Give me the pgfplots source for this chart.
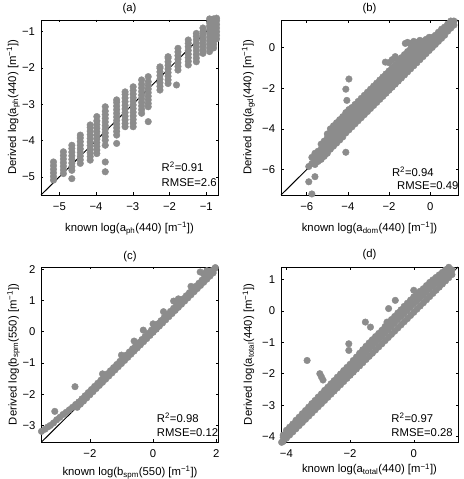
\documentclass[border=0pt]{standalone}
\usepackage{fontspec}
\setmainfont{Liberation Sans}
\usepackage{pgfplots}
\pgfplotsset{compat=1.18}
\definecolor{mg}{RGB}{140,140,140}
\pgfplotsset{
  panel/.style={
    scale only axis, anchor=south west, width=177pt, height=175pt,
    axis line style={line width=0.8pt},
    tick align=inside, major tick length=2.5pt,
    tick style={black, line width=0.5pt},
    xtick pos=both, ytick pos=both,
    xticklabel pos=bottom, yticklabel pos=left,
    xticklabel style={yshift=-4pt},
    yticklabel style={xshift=-2pt},
    xlabel style={anchor=base},
    ylabel style={anchor=base},
    clip=false,
  },
  pts/.style={only marks, mark=*, mark size=3.3pt, color=mg, mark options={draw=mg, fill=mg}},
  idl/.style={black, line width=1pt, no marks},
}
\begin{document}
\fontsize{11.3}{13}\selectfont
\begin{tikzpicture}
\useasboundingbox (0,0) rectangle (463pt,479pt);
% ---------------- (a)
\begin{axis}[panel, at={(41pt,284pt)},
  xmin=-5.5, xmax=-0.68, ymin=-5.5, ymax=-0.68,
  xtick={-5,-4,-3,-2,-1}, xticklabels={−5,−4,−3,−2,−1},
  ytick={-5,-4,-3,-2,-1}, yticklabels={−5,−4,−3,−2,−1},
  xlabel={known log(a\textsubscript{ph}(440) [m\textsuperscript{−1}])},
  ylabel={Derived log(a\textsubscript{ph}(440) [m\textsuperscript{−1}])},
  xlabel style={at={(axis description cs:0.5,-0.206)}},
  ylabel style={at={(axis description cs:-0.141,0.5)}},
]
\addplot[pts] coordinates {
(-5.16,-5.09)(-5.16,-4.99)(-5.16,-4.89)(-5.16,-4.79)(-5.16,-4.69)(-5.16,-4.59)
(-4.89,-4.91)(-4.89,-4.81)(-4.89,-4.71)(-4.89,-4.61)(-4.89,-4.51)(-4.89,-4.41)(-4.89,-4.31)
(-4.66,-5.05)(-4.66,-4.82)(-4.66,-4.72)(-4.66,-4.62)(-4.66,-4.52)(-4.66,-4.42)(-4.66,-4.32)(-4.66,-4.22)(-4.66,-4.13)
(-4.43,-4.63)(-4.43,-4.53)(-4.43,-4.43)(-4.43,-4.33)(-4.43,-4.23)(-4.43,-4.13)(-4.43,-4.03)(-4.43,-3.93)(-4.43,-3.85)
(-4.16,-4.54)(-4.16,-4.44)(-4.16,-4.34)(-4.16,-4.24)(-4.16,-4.14)(-4.16,-4.04)(-4.16,-3.94)(-4.16,-3.84)(-4.16,-3.74)(-4.16,-3.64)(-4.16,-3.57)
(-3.98,-4.36)(-3.98,-4.26)(-3.98,-4.16)(-3.98,-4.06)(-3.98,-3.96)(-3.98,-3.86)(-3.98,-3.76)(-3.98,-3.66)(-3.98,-3.56)(-3.98,-3.46)(-3.98,-3.34)
(-3.75,-4.86)(-3.75,-4.59)(-3.75,-4.13)(-3.75,-3.99)(-3.75,-3.89)(-3.75,-3.79)(-3.75,-3.69)(-3.75,-3.59)(-3.75,-3.49)(-3.75,-3.39)(-3.75,-3.29)(-3.75,-3.19)(-3.75,-3.07)
(-3.44,-4.08)(-3.44,-3.85)(-3.44,-3.75)(-3.44,-3.65)(-3.44,-3.55)(-3.44,-3.45)(-3.44,-3.35)(-3.44,-3.25)(-3.44,-3.15)(-3.44,-3.05)(-3.44,-2.95)(-3.44,-2.88)
(-3.21,-3.62)(-3.21,-3.53)(-3.21,-3.43)(-3.21,-3.33)(-3.21,-3.23)(-3.21,-3.13)(-3.21,-3.03)(-3.21,-2.93)(-3.21,-2.83)(-3.21,-2.73)(-3.21,-2.66)
(-2.99,-3.62)(-2.99,-3.52)(-2.99,-3.42)(-2.99,-3.32)(-2.99,-3.22)(-2.99,-3.12)(-2.99,-3.02)(-2.99,-2.92)(-2.99,-2.82)(-2.99,-2.72)(-2.99,-2.62)(-2.99,-2.52)
(-2.76,-3.25)(-2.76,-3.15)(-2.76,-3.05)(-2.76,-2.95)(-2.76,-2.85)(-2.76,-2.75)(-2.76,-2.65)(-2.76,-2.55)(-2.76,-2.45)(-2.76,-2.33)
(-2.58,-3.48)(-2.58,-3.07)(-2.58,-2.98)(-2.58,-2.88)(-2.58,-2.78)(-2.58,-2.68)(-2.58,-2.58)(-2.58,-2.48)(-2.58,-2.38)(-2.58,-2.24)
(-2.26,-2.61)(-2.26,-2.51)(-2.26,-2.41)(-2.26,-2.31)(-2.26,-2.21)(-2.26,-2.11)(-2.26,-2.01)(-2.26,-1.97)
(-2.04,-2.43)(-2.04,-2.33)(-2.04,-2.23)(-2.04,-2.13)(-2.04,-2.03)(-2.04,-1.93)(-2.04,-1.83)(-2.04,-1.73)(-2.04,-1.69)
(-1.81,-2.47)
(-1.77,-2.06)(-1.77,-1.96)(-1.77,-1.86)(-1.77,-1.76)(-1.77,-1.66)(-1.77,-1.56)(-1.77,-1.46)
(-1.49,-1.92)(-1.49,-1.82)(-1.49,-1.72)(-1.49,-1.62)(-1.49,-1.52)(-1.49,-1.42)(-1.49,-1.32)(-1.49,-1.23)
(-1.27,-1.83)(-1.27,-1.73)(-1.27,-1.63)(-1.27,-1.53)(-1.27,-1.43)(-1.27,-1.33)(-1.27,-1.23)(-1.27,-1.13)(-1.27,-1.05)
(-1.09,-1.6)(-1.09,-1.5)(-1.09,-1.4)(-1.09,-1.3)(-1.09,-1.2)(-1.09,-1.1)(-1.09,-1.0)(-1.09,-0.9)
(-0.91,-1.55)(-0.91,-1.45)(-0.91,-1.35)(-0.91,-1.25)(-0.91,-1.15)(-0.91,-1.05)(-0.91,-0.95)(-0.91,-0.85)(-0.91,-0.75)(-0.91,-0.65)
(-0.8,-1.45)(-0.8,-1.35)(-0.8,-1.25)(-0.8,-1.15)(-0.8,-1.05)(-0.8,-0.95)(-0.8,-0.85)(-0.8,-0.75)(-0.8,-0.65)
(-0.72,-1.2)(-0.72,-1.1)(-0.72,-1.0)(-0.72,-0.9)(-0.72,-0.8)(-0.72,-0.7)(-0.72,-0.63)
};
\addplot[idl] coordinates {(-5.5,-5.5)(-0.68,-0.68)};
\node[anchor=base, inner sep=0] at (axis description cs:0.5,1.046) {(a)};
\node[anchor=base west, inner sep=0] at (axis description cs:0.681,0.133) {R\textsuperscript{2}=0.91};
\node[anchor=base west, inner sep=0] at (axis description cs:0.681,0.047) {RMSE=2.6};
\end{axis}
% ---------------- (b)
\begin{axis}[panel, at={(281pt,284pt)},
  xmin=-7.25, xmax=1.35, ymin=-7.25, ymax=1.35,
  xtick={-6,-4,-2,0}, xticklabels={−6,−4,−2,0},
  ytick={-6,-4,-2,0}, yticklabels={−6,−4,−2,0},
  xlabel={known log(a\textsubscript{dom}(440) [m\textsuperscript{−1}])},
  ylabel={Derived log(a\textsubscript{gd}(440) [m\textsuperscript{−1}])},
  xlabel style={at={(axis description cs:0.5,-0.206)}},
  ylabel style={at={(axis description cs:-0.168,0.5)}},
]
\addplot[pts] coordinates {
(-5.9,-6.6)(-5.9,-5.85)
(-5.75,-7.2)(-5.75,-5.7)(-5.75,-5.4)
(-5.6,-6.35)(-5.6,-5.75)(-5.6,-5.5)(-5.6,-5.2)
(-5.45,-5.6)(-5.45,-5.35)(-5.45,-5.1)
(-5.3,-5.5)(-5.3,-5.25)(-5.3,-5.0)(-5.3,-4.75)
(-5.15,-5.35)(-5.15,-5.1)(-5.15,-4.85)(-5.15,-4.6)
(-5.0,-5.2)(-5.0,-4.95)(-5.0,-4.7)(-5.0,-4.45)(-5.0,-4.25)
(-4.85,-5.0)(-4.85,-4.75)(-4.85,-4.5)(-4.85,-4.25)(-4.85,-4.0)
(-4.7,-4.85)(-4.7,-4.6)(-4.7,-4.35)(-4.7,-4.1)(-4.7,-3.85)
(-4.55,-4.7)(-4.55,-4.45)(-4.55,-4.2)(-4.55,-3.95)(-4.55,-3.7)
(-4.4,-4.55)(-4.4,-4.3)(-4.4,-4.05)(-4.4,-3.8)(-4.4,-3.55)
(-4.25,-4.4)(-4.25,-4.15)(-4.25,-3.9)(-4.25,-3.65)(-4.25,-3.4)
(-4.1,-5.15)(-4.1,-4.2)(-4.1,-3.95)(-4.1,-3.7)(-4.1,-3.45)(-4.1,-3.2)(-4.1,-2.05)(-4.05,-2.6)
(-3.95,-4.05)(-3.95,-3.8)(-3.95,-3.55)(-3.95,-3.3)(-3.95,-3.05)(-3.95,-1.55)
(-3.8,-3.9)(-3.8,-3.65)(-3.8,-3.4)(-3.8,-3.15)(-3.8,-2.95)
(-3.65,-3.75)(-3.65,-3.5)(-3.65,-3.25)(-3.65,-3.0)(-3.65,-2.8)
(-3.5,-3.6)(-3.5,-3.35)(-3.5,-3.1)(-3.5,-2.85)(-3.5,-2.65)
(-3.35,-3.45)(-3.35,-3.2)(-3.35,-2.95)(-3.35,-2.7)(-3.35,-2.5)
(-3.2,-3.3)(-3.2,-3.05)(-3.2,-2.8)(-3.24,-2.6)(-3.2,-2.35)
(-3.05,-3.15)(-3.05,-2.9)(-3.05,-2.65)(-3.05,-2.4)(-3.05,-2.2)
(-2.9,-3.0)(-2.9,-2.75)(-2.9,-2.5)(-2.9,-2.25)(-2.9,-2.05)
(-2.75,-2.85)(-2.75,-2.6)(-2.75,-2.35)(-2.75,-2.1)(-2.75,-1.9)
(-2.6,-2.7)(-2.6,-2.45)(-2.6,-2.2)(-2.6,-1.95)(-2.6,-1.75)
(-2.45,-2.55)(-2.45,-2.3)(-2.45,-2.05)(-2.45,-1.8)(-2.45,-1.6)
(-2.3,-2.4)(-2.3,-2.15)(-2.3,-1.9)(-2.3,-1.65)(-2.3,-1.45)
(-2.15,-2.25)(-2.15,-2.0)(-2.15,-1.75)(-2.15,-1.5)(-2.15,-1.3)(-2.18,-0.72)
(-2.0,-2.1)(-2.0,-1.85)(-2.0,-1.6)(-2.0,-1.35)(-2.0,-1.15)(-2.0,-0.75)
(-1.85,-1.95)(-1.85,-1.7)(-1.85,-1.45)(-1.85,-1.2)(-1.85,-1.0)(-1.85,-0.6)
(-1.7,-1.8)(-1.7,-1.55)(-1.7,-1.3)(-1.7,-1.05)(-1.7,-0.85)(-1.7,-0.45)
(-1.55,-1.65)(-1.55,-1.4)(-1.55,-1.15)(-1.55,-0.9)(-1.55,-0.65)
(-1.4,-1.5)(-1.4,-1.25)(-1.4,-1.0)(-1.4,-0.75)(-1.4,-0.5)
(-1.25,-1.35)(-1.25,-1.1)(-1.25,-0.85)(-1.25,-0.6)(-1.25,-0.35)(-1.21,0.2)
(-1.1,-1.2)(-1.1,-0.95)(-1.1,-0.7)(-1.1,-0.45)(-1.1,-0.2)(-1.1,0.25)
(-0.95,-1.05)(-0.95,-0.8)(-0.95,-0.55)(-0.95,-0.3)(-0.95,-0.05)(-0.95,0.2)
(-0.8,-0.9)(-0.8,-0.65)(-0.8,-0.4)(-0.8,-0.15)(-0.8,0.1)(-0.8,0.3)
(-0.65,-0.75)(-0.65,-0.5)(-0.65,-0.25)(-0.65,0.0)(-0.65,0.25)
(-0.5,-0.6)(-0.5,-0.35)(-0.5,-0.1)(-0.5,0.15)(-0.5,0.35)
(-0.35,-0.45)(-0.35,-0.2)(-0.35,0.05)(-0.35,0.3)
(-0.2,-0.3)(-0.2,-0.05)(-0.2,0.2)(-0.2,0.4)
(-0.05,-0.15)(-0.05,0.1)(-0.05,0.35)(-0.05,0.5)
(0.1,0.0)(0.1,0.25)(0.1,0.5)
(0.25,0.15)(0.25,0.4)(0.25,0.6)
(0.4,0.3)(0.4,0.55)(0.4,0.75)
(0.55,0.45)(0.55,0.7)(0.55,0.9)
(0.7,0.6)(0.7,0.85)(0.7,1.0)
(0.85,0.8)(0.85,1.0)(0.85,1.15)
(1.0,0.95)(1.0,1.15)(1.0,1.3)
(1.15,1.1)(1.15,1.3)
};
\addplot[idl] coordinates {(-7.25,-7.25)(1.35,1.35)};
\node[anchor=base, inner sep=0] at (axis description cs:0.5,1.046) {(b)};
\node[anchor=base west, inner sep=0] at (axis description cs:0.626,0.104) {R\textsuperscript{2}=0.94};
\node[anchor=base west, inner sep=0] at (axis description cs:0.655,0.032) {RMSE=0.49};
\end{axis}
% ---------------- (c)
\begin{axis}[panel, at={(41.5pt,37pt)},
  xmin=-3.53, xmax=2.07, ymin=-3.53, ymax=2.07,
  xtick={-2,0,2}, xticklabels={−2,0,2},
  ytick={-3,-2,-1,0,1,2}, yticklabels={−3,−2,−1,0,1,2},
  xlabel={known log(b\textsubscript{spm}(550) [m\textsuperscript{−1}])},
  ylabel={Derived log(b\textsubscript{spm}(550) [m\textsuperscript{−1}])},
  xlabel style={at={(axis description cs:0.5,-0.194)}},
  ylabel style={at={(axis description cs:-0.141,0.5)}},
]
\addplot[pts] coordinates {
(-3.53,-3.19)(-3.42,-3.12)(-3.33,-3.05)(-3.25,-3.0)(-3.15,-2.92)(-3.05,-2.82)(-2.95,-2.74)(-2.85,-2.65)(-2.75,-2.58)(-2.65,-2.5)(-2.55,-2.42)(-2.45,-2.33)
(-3.11,-2.55)(-2.47,-1.76)
(-2.4,-2.42)(-2.35,-2.25)(-2.3,-2.32)(-2.25,-2.15)(-2.2,-2.22)(-2.15,-2.05)(-2.1,-2.12)(-2.05,-1.95)
(-2.0,-2.02)(-1.95,-1.85)(-1.9,-1.92)(-1.85,-1.75)(-1.8,-1.82)(-1.75,-1.65)(-1.7,-1.72)(-1.65,-1.55)
(-1.6,-1.62)(-1.55,-1.45)(-1.5,-1.52)(-1.45,-1.35)(-1.4,-1.42)(-1.35,-1.25)(-1.3,-1.32)(-1.25,-1.15)
(-1.2,-1.22)(-1.15,-1.05)(-1.1,-1.12)(-1.05,-0.95)(-1.0,-1.02)(-0.95,-0.85)(-0.9,-0.92)(-0.85,-0.75)
(-0.8,-0.82)(-0.75,-0.65)(-0.7,-0.72)(-0.65,-0.55)(-0.6,-0.62)(-0.55,-0.45)(-0.5,-0.52)(-0.45,-0.35)
(-0.4,-0.42)(-0.35,-0.25)(-0.3,-0.32)(-0.25,-0.15)(-0.2,-0.22)(-0.15,-0.05)(-0.1,-0.12)(-0.05,0.05)
(0,-0.02)(0.05,0.15)(0.1,0.08)(0.15,0.25)(0.2,0.18)(0.25,0.35)(0.3,0.28)(0.35,0.45)
(0.4,0.38)(0.45,0.55)(0.5,0.48)(0.55,0.65)(0.6,0.58)(0.65,0.75)(0.7,0.68)(0.75,0.85)
(0.8,0.78)(0.85,0.95)(0.9,0.88)(0.95,1.05)(1.0,0.98)(1.05,1.15)(1.1,1.08)(1.15,1.25)
(1.2,1.18)(1.25,1.35)(1.3,1.28)(1.35,1.45)(1.4,1.38)(1.45,1.55)(1.5,1.48)(1.55,1.65)
(1.6,1.58)(1.65,1.75)(1.7,1.68)(1.75,1.85)(1.8,1.78)(1.85,1.95)(1.9,1.88)(1.95,2.02)
(-1.6,-1.35)(-1.0,-0.75)(-0.6,-0.3)(0.0,0.25)(0.8,1.05)(1.2,1.45)(1.6,1.85)(1.7,1.95)
(-0.31,0.05)(0.33,0.64)(0.65,0.98)(1.49,1.91)(1.97,2.05)
};
\addplot[idl] coordinates {(-3.53,-3.53)(2.07,2.07)};
\node[anchor=base, inner sep=0] at (axis description cs:0.5,1.04) {(c)};
\node[anchor=base west, inner sep=0] at (axis description cs:0.651,0.112) {R\textsuperscript{2}=0.98};
\node[anchor=base west, inner sep=0] at (axis description cs:0.651,0.032) {RMSE=0.12};
\end{axis}
% ---------------- (d)
\begin{axis}[panel, at={(281pt,37pt)},
  xmin=-4.17, xmax=1.39, ymin=-4.17, ymax=1.39,
  xtick={-4,-2,0}, xticklabels={−4,−2,0},
  ytick={-4,-3,-2,-1,0,1}, yticklabels={−4,−3,−2,−1,0,1},
  xlabel={known log(a\textsubscript{total}(440) [m\textsuperscript{−1}])},
  ylabel={Derived log(a\textsubscript{total}(440) [m\textsuperscript{−1}])},
  xlabel style={at={(axis description cs:0.5,-0.177)}},
  ylabel style={at={(axis description cs:-0.164,0.5)}},
]
\addplot[pts] coordinates {
(-4.15,-4.18)
(-4.1,-4.15)(-4.1,-4.02)(-4.1,-3.95)
(-4.0,-4.05)(-4.0,-3.9)(-4.0,-3.8)
(-3.9,-3.95)(-3.9,-3.8)(-3.9,-3.7)
(-3.8,-3.85)(-3.8,-3.7)(-3.8,-3.6)
(-3.7,-3.75)(-3.7,-3.59)(-3.7,-3.48)
(-3.6,-3.65)(-3.6,-3.49)(-3.6,-3.38)
(-3.5,-3.55)(-3.5,-3.39)(-3.5,-3.27)
(-3.4,-3.45)(-3.4,-3.29)(-3.4,-3.17)
(-3.3,-3.35)(-3.3,-3.18)(-3.3,-3.06)
(-3.2,-3.25)(-3.2,-3.08)(-3.2,-2.95)
(-3.1,-3.15)(-3.1,-2.98)(-3.1,-2.85)
(-3.0,-3.05)(-3.0,-2.87)(-3.0,-2.74)
(-2.9,-2.95)(-2.9,-2.77)(-2.9,-2.64)
(-2.8,-2.85)(-2.8,-2.67)(-2.8,-2.53)
(-2.7,-2.75)(-2.7,-2.57)(-2.7,-2.43)
(-2.6,-2.65)(-2.6,-2.46)(-2.6,-2.32)
(-2.5,-2.55)(-2.5,-2.36)(-2.5,-2.22)
(-2.4,-2.45)(-2.4,-2.26)(-2.4,-2.11)
(-2.3,-2.35)(-2.3,-2.16)(-2.3,-2.01)
(-2.2,-2.25)(-2.2,-2.05)(-2.2,-1.9)
(-2.1,-2.15)(-2.1,-1.95)(-2.1,-1.8)
(-2.0,-2.05)(-2.0,-1.85)(-2.0,-1.7)
(-1.9,-1.95)(-1.9,-1.74)(-1.9,-1.58)
(-1.8,-1.85)(-1.8,-1.64)(-1.8,-1.47)
(-1.7,-1.75)(-1.7,-1.53)(-1.7,-1.35)
(-1.6,-1.65)(-1.6,-1.42)(-1.6,-1.24)
(-1.5,-1.55)(-1.5,-1.32)(-1.5,-1.13)
(-1.4,-1.45)(-1.4,-1.21)(-1.4,-1.02)
(-1.3,-1.35)(-1.3,-1.11)(-1.3,-0.92)
(-1.2,-1.25)(-1.2,-1.01)(-1.2,-0.82)
(-1.1,-1.15)(-1.1,-0.91)(-1.1,-0.72)
(-1.0,-1.05)(-1.0,-0.81)(-1.0,-0.62)
(-0.9,-0.95)(-0.9,-0.7)(-0.9,-0.5)
(-0.8,-0.85)(-0.8,-0.6)(-0.8,-0.4)
(-0.7,-0.75)(-0.7,-0.49)(-0.7,-0.28)
(-0.6,-0.65)(-0.6,-0.39)(-0.6,-0.18)
(-0.5,-0.55)(-0.5,-0.28)(-0.5,-0.07)
(-0.4,-0.45)(-0.4,-0.18)(-0.4,0.03)
(-0.3,-0.35)(-0.3,-0.08)(-0.3,0.14)
(-0.2,-0.25)(-0.2,0.02)(-0.2,0.24)
(-0.1,-0.15)(-0.1,0.12)(-0.1,0.34)
(0.0,-0.05)(0.0,0.22)(0.0,0.44)
(0.1,0.05)(0.1,0.31)(0.1,0.52)
(0.2,0.15)(0.2,0.41)(0.2,0.62)
(0.3,0.25)(0.3,0.5)(0.3,0.7)
(0.4,0.35)(0.4,0.6)(0.4,0.8)
(0.5,0.45)(0.5,0.7)(0.5,0.9)
(0.6,0.55)(0.6,0.79)(0.6,0.98)
(0.7,0.65)(0.7,0.88)(0.7,1.06)
(0.8,0.75)(0.8,0.97)(0.8,1.14)
(0.9,0.85)(0.9,1.06)(0.9,1.22)
(1.0,0.95)(1.0,1.15)(1.0,1.3)
(1.1,1.05)(1.1,1.24)(1.1,1.38)
(1.2,1.15)(1.2,1.3)
(-3.35,-1.58)(-2.9,-2.1)(-2.85,-2.2)(-2.95,-2.0)(-2.04,-1.05)(-2.04,-1.26)
(-1.52,-0.36)(-1.36,-0.52)(-0.84,-0.36)(-0.58,0.33)(-0.79,0.07)(0.0,0.65)
};
\addplot[idl] coordinates {(-4.17,-4.17)(1.39,1.39)};
\node[anchor=base, inner sep=0] at (axis description cs:0.5,1.052) {(d)};
\node[anchor=base west, inner sep=0] at (axis description cs:0.623,0.114) {R\textsuperscript{2}=0.97};
\node[anchor=base west, inner sep=0] at (axis description cs:0.623,0.029) {RMSE=0.28};
\end{axis}
\end{tikzpicture}
\end{document}
